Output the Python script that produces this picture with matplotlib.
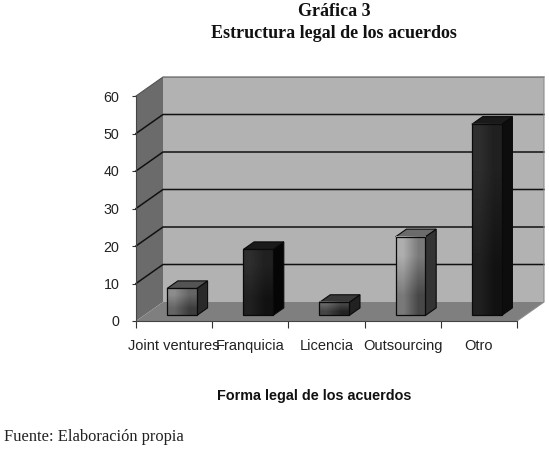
import numpy as np
import matplotlib
matplotlib.use("Agg")
import matplotlib.pyplot as plt
from matplotlib.patches import Polygon

categories = ["Joint ventures", "Franquicia", "Licencia", "Outsourcing", "Otro"]
values = [7.2, 17.6, 3.5, 21, 51]
yticks = [0, 10, 20, 30, 40, 50, 60]

# bar shades: gradient light, gradient dark, top, side
light = [0.55, 0.18, 0.40, 0.68, 0.18]
dark = [0.24, 0.07, 0.14, 0.28, 0.07]
top = [0.33, 0.10, 0.22, 0.42, 0.10]
side = [0.16, 0.02, 0.13, 0.20, 0.05]

W, H = 549, 449
DX, DY = 27 / 76.2, 19 / 3.75  # depth of the 3d box, in data units
BAR_W = 0.39
D0, D1 = 0.29, 0.69  # where bars start and end along the depth


def proj(x, v, d):
    return (x + d * DX, v + d * DY)


def face(ax, pts, color, z, ec="none", lw=0):
    ax.add_patch(Polygon([proj(*p) for p in pts], closed=True, fc=color, ec=ec,
                         lw=lw, zorder=z, clip_on=False))


fig = plt.figure(figsize=(W / 100, H / 100), dpi=100)
ax = fig.add_axes([136 / W, (H - 321) / H, 381 / W, 225 / H])
ax.patch.set_visible(False)

n = len(categories)
vmax = yticks[-1]
face(ax, [(0, 0, 0), (0, vmax, 0), (0, vmax, 1), (0, 0, 1)], "#6b6b6b", 1)
face(ax, [(0, 0, 1), (n, 0, 1), (n, vmax, 1), (0, vmax, 1)], "#b2b2b2", 1)
face(ax, [(0, 0, 0), (n, 0, 0), (n, 0, 1), (0, 0, 1)], "#7f7f7f", 1.5)

# gridlines run over the side wall and the back wall
for v in yticks[1:]:
    pts = [proj(0, v, 0), proj(0, v, 1), proj(n, v, 1)]
    edge = v == vmax
    ax.plot([p[0] for p in pts], [p[1] for p in pts], color="#555555" if edge else "#111111",
            lw=0.8 if edge else 1.1, zorder=2, clip_on=False)
px, py = zip(proj(n, 0, 0), proj(n, 0, 1), proj(n, vmax, 1))
ax.plot(px, py, color="#8c8c8c", lw=0.8, zorder=2, clip_on=False)

for i, val in enumerate(values):
    x0 = i + 0.5 - BAR_W / 2
    x1 = i + 0.5 + BAR_W / 2
    z = 3 + i
    face(ax, [(x1, 0, D0), (x1, 0, D1), (x1, val, D1), (x1, val, D0)], str(side[i]), z,
         "#0a0a0a", 0.8)
    face(ax, [(x0, val, D0), (x1, val, D0), (x1, val, D1), (x0, val, D1)], str(top[i]), z,
         "#0a0a0a", 0.8)
    fx0, fy0 = proj(x0, 0, D0)
    fx1, fy1 = proj(x1, val, D0)
    grad = np.array([[light[i], (light[i] + dark[i]) / 2],
                     [(light[i] + dark[i]) / 2, dark[i]]])
    ax.imshow(grad, cmap="gray", vmin=0, vmax=1, extent=(fx0, fx1, fy0, fy1), origin="upper",
              aspect="auto", interpolation="bilinear", zorder=z + 0.1, clip_on=False)
    face(ax, [(x0, 0, D0), (x1, 0, D0), (x1, val, D0), (x0, val, D0)], "none", z + 0.2,
         "#0a0a0a", 0.9)

ax.set_xlim(0, n)
ax.set_ylim(0, vmax)
for s in ["top", "right"]:
    ax.spines[s].set_visible(False)
for s in ["left", "bottom"]:
    ax.spines[s].set_linewidth(0.8)
    ax.spines[s].set_color("#444444")
    ax.spines[s].set_zorder(2.5)

ax.set_yticks(yticks)
ax.set_xticks(np.arange(n + 1))
ax.set_xticklabels([])
ax.set_xticks(np.arange(n) + 0.5, minor=True)
ax.set_xticklabels(categories, minor=True)
ax.tick_params(axis="x", which="minor", length=0, pad=13, labelsize=10.5)
ax.tick_params(axis="x", which="major", length=5, width=0.8, color="#333333")
ax.tick_params(axis="y", length=3, width=0.8, pad=9, labelsize=10.3, color="#333333")
for lab in ax.get_xticklabels(minor=True) + ax.get_yticklabels():
    lab.set_family("Liberation Sans")
    lab.set_color("#222222")

serif = "Liberation Serif"
fig.text(334 / W, 1 - 12 / H, "Gráfica 3", ha="center", va="center", family=serif,
         weight="bold", fontsize=13, color="#111111")
fig.text(334 / W, 1 - 34 / H, "Estructura legal de los acuerdos", ha="center", va="center",
         family=serif, weight="bold", fontsize=13, color="#111111")
fig.text(314 / W, 1 - 396 / H, "Forma legal de los acuerdos", ha="center", va="center",
         family="Liberation Sans", weight="bold", fontsize=10.4, color="#111111")
fig.text(4 / W, 1 - 437 / H, "Fuente: Elaboración propia", ha="left", va="center",
         family=serif, fontsize=11.9, color="#222222")

fig.savefig("out.png", dpi=100)
